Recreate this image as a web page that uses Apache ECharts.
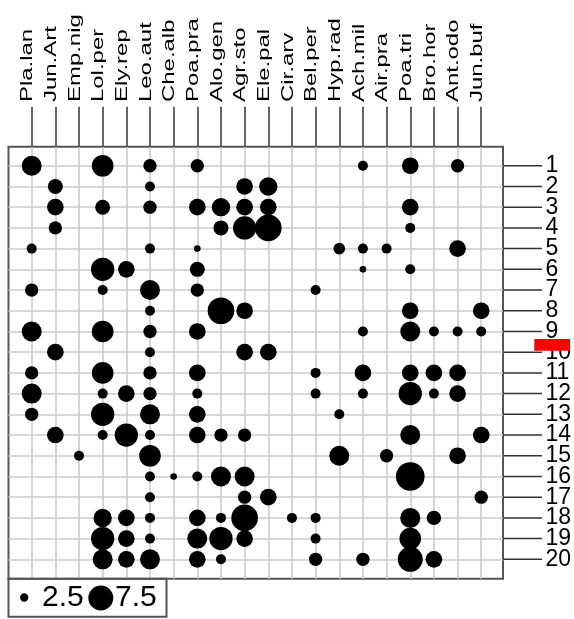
<!DOCTYPE html>
<html><head><meta charset="utf-8">
<script src="https://cdn.jsdelivr.net/npm/echarts@6.0.0/dist/echarts.min.js"></script>
<style>html,body{margin:0;padding:0;background:#fff}#c{width:574px;height:619px}</style>
</head><body><div id="c"></div>
<script>
const species = ['Pla.lan','Jun.Art','Emp.nig','Lol.per','Ely.rep','Leo.aut','Che.alb','Poa.pra','Alo.gen','Agr.sto','Ele.pal','Cir.arv','Bel.per','Hyp.rad','Ach.mil','Air.pra','Poa.tri','Bro.hor','Ant.odo','Jun.buf'];
const sites = ['1','2','3','4','5','6','7','8','9','10','11','12','13','14','15','16','17','18','19','20'];
const siteTicks = [1,2,3,4,5,6,7,8,9,10,11,12,13,14,15,16,17,18,19,20];
const legendValues = [2.5, 7.5];

// cover values per species, sites 1..20
const Pla_lan = [6,0,0,0,3,0,4,0,6,0,4,6,4,0,0,0,0,0,0,0];
const Jun_Art = [0,4.5,5,4,0,0,0,0,0,5,0,0,0,5,0,0,0,0,0,0];
const Emp_nig = [0,0,0,0,0,0,0,0,0,0,0,0,0,0,3,0,0,0,0,0];
const Lol_per = [6.5,0,4.5,0,0,7,3,0,6.5,0,6.5,3,7,3,0,0,0,5.5,7,6];
const Ely_rep = [0,0,0,0,0,5,0,0,0,0,0,5,0,7,0,0,0,5,5,5];
const Leo_aut = [4,3,4,0,3,0,6,3,4,3,4,4,6,3,6.5,3,3,3,3,6];
const Che_alb = [0,0,0,0,0,0,0,0,0,0,0,0,0,0,0,2,0,0,0,0];
const Poa_pra = [4,0,5,0,2,4.5,4,0,5,0,5,3,5,5,0,3,0,5,6,5];
const Alo_gen = [0,0,5.5,4.5,0,0,0,8,0,0,0,0,0,4,0,6,0,3,7,3];
const Agr_sto = [0,5,5,7,0,0,0,5,0,5,0,0,0,4,0,6,4,8,5,0];
const Ele_pal = [0,5.5,5,8,0,0,0,0,0,5,0,0,0,0,0,0,5,0,0,0];
const Cir_arv = [0,0,0,0,0,0,0,0,0,0,0,0,0,0,0,0,0,3,0,0];
const Bel_per = [0,0,0,0,0,0,3,0,0,0,3,3,0,0,0,0,0,3,3,4];
const Hyp_rad = [0,0,0,0,3.5,0,0,0,0,0,0,0,3,0,6,0,0,0,0,0];
const Ach_mil = [3,0,0,0,3,2,0,0,3,0,5,3,0,0,0,0,0,0,0,4];
const Air_pra = [0,0,0,0,3,0,0,0,0,0,0,0,0,0,4,0,0,0,0,0];
const Poa_tri = [5,0,5,3,0,3,0,5,6,0,5,7,0,6,0,8.6,0,6,6.5,7.5];
const Bro_hor = [0,0,0,0,0,0,0,0,3,0,5,3,0,0,0,0,0,4.3,0,5];
const Ant_odo = [4,0,0,0,5,0,0,0,3,0,5,5,0,0,5,0,0,0,0,0];
const Jun_buf = [0,0,0,0,0,0,0,5,3,0,0,0,0,5,0,0,4,0,0,0];

const columns = [Pla_lan,Jun_Art,Emp_nig,Lol_per,Ely_rep,Leo_aut,Che_alb,Poa_pra,Alo_gen,Agr_sto,Ele_pal,Cir_arv,Bel_per,Hyp_rad,Ach_mil,Air_pra,Poa_tri,Bro_hor,Ant_odo,Jun_buf];

const SIZE = 3.33; // px diameter per unit
const FONT = '"Liberation Sans", Arial, sans-serif';
const points = [];
columns.forEach((col, j) => col.forEach((v, i) => { if (v > 0) points.push([j + 1, i + 1, v]); }));

const chart = echarts.init(document.getElementById('c'), null, {renderer: 'canvas'});
chart.setOption({
  animation: false,
  backgroundColor: '#fff',
  grid: {left: 8.5, right: 71, top: 146.7, bottom: 40.2, show: true, borderColor: '#555', borderWidth: 2, backgroundColor: 'transparent', outerBoundsMode: 'none', containLabel: false},
  xAxis: {
    type: 'value', position: 'top', min: 0.02, max: 20.92,
    axisLine: {show: false},
    axisTick: {show: true, customValues: siteTicks, length: 40, inside: false, lineStyle: {color: '#333', width: 1.5}},
    axisLabel: {show: false},
    splitLine: {show: true, lineStyle: {color: '#cbcbcb', width: 1.6}}
  },
  yAxis: {
    type: 'value', position: 'right', inverse: true, min: 0.08, max: 20.94,
    axisLine: {show: false},
    axisTick: {show: false, customValues: siteTicks},
    axisLabel: {show: false, customValues: siteTicks},
    splitLine: {show: true, lineStyle: {color: '#cbcbcb', width: 1.6}}
  },
  series: [{
    type: 'scatter', data: points,
    symbol: 'circle',
    symbolSize: d => d[2] * SIZE,
    itemStyle: {color: '#000', opacity: 1},
    emphasis: {disabled: true}
  }]
});

const graphics = [];
const textStyle = (t, size, extra) => Object.assign({text: t, fontSize: size, fontFamily: FONT, fill: '#000', align: 'left', verticalAlign: 'middle', textAlign: 'left', textVerticalAlign: 'middle'}, extra || {});
species.forEach((s, j) => {
  const px = chart.convertToPixel({gridIndex: 0}, [j + 1, 1]);
  graphics.push({
    type: 'text', x: px[0] - 3.8, y: 102, rotation: Math.PI / 2, scaleX: 1.45, scaleY: 1, silent: true,
    style: textStyle(s, 16.5)
  });
});
const gridRight = chart.convertToPixel({gridIndex: 0}, [20.92, 1])[0];
sites.forEach((s, i) => {
  const py = chart.convertToPixel({gridIndex: 0}, [1, siteTicks[i]])[1];
  graphics.push({type: 'line', silent: true, shape: {x1: gridRight, y1: py, x2: gridRight + 39, y2: py}, style: {stroke: '#333', lineWidth: 1.5}});
  graphics.push({type: 'text', silent: true, x: gridRight + 42.5, y: py, style: textStyle(s, 23)});
});
// legend
graphics.push({type: 'rect', silent: true, shape: {x: 8.5, y: 578.8, width: 158, height: 38}, style: {fill: 'none', stroke: '#555', lineWidth: 2}});
graphics.push({type: 'circle', silent: true, shape: {cx: 24.2, cy: 597.5, r: legendValues[0] * SIZE / 2}, style: {fill: '#000'}});
graphics.push({type: 'text', silent: true, x: 42, y: 597.5, style: textStyle(String(legendValues[0]), 30)});
graphics.push({type: 'circle', silent: true, shape: {cx: 100.8, cy: 598, r: legendValues[1] * SIZE / 2}, style: {fill: '#000'}});
graphics.push({type: 'text', silent: true, x: 115, y: 597.5, style: textStyle(String(legendValues[1]), 30)});
// red marker
graphics.push({type: 'rect', silent: true, z: 100, shape: {x: 534.3, y: 339, width: 35.7, height: 11.7}, style: {fill: '#ff0000'}});
chart.setOption({graphic: graphics});
</script></body></html>
